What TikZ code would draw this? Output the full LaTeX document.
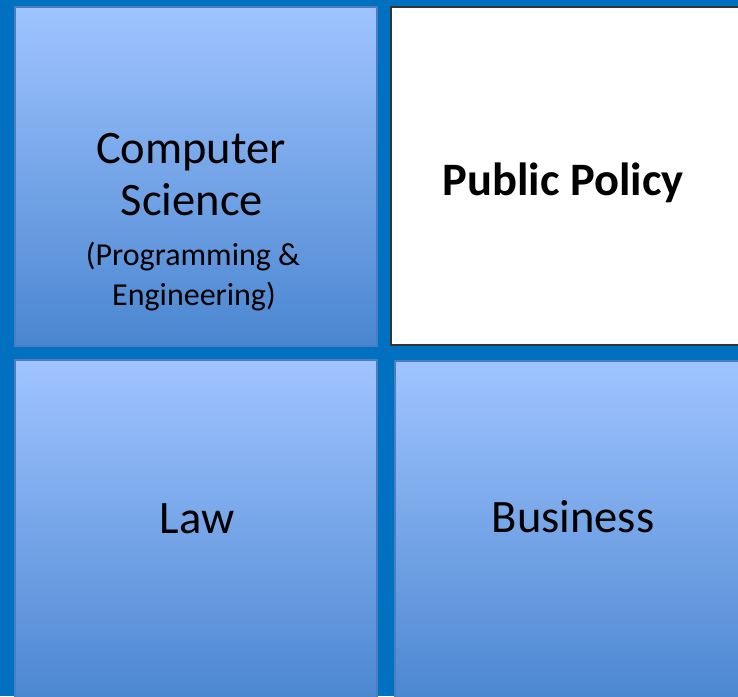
\documentclass[tikz,border=0pt]{standalone}
\usepackage{fontspec}
\setmainfont{Carlito}
\definecolor{bgblue}{HTML}{0070C0}
\definecolor{boxtop}{HTML}{A0C4FF}
\definecolor{boxbot}{HTML}{4A86D0}
\definecolor{boxline}{HTML}{4A7EC0}
\tikzset{
  tile/.style={top color=boxtop, bottom color=boxbot, draw=boxline, line width=1.5pt},
  plaintile/.style={fill=white, draw=black!80, line width=2pt},
  bigtxt/.style={anchor=base, inner sep=0pt, font=\fontsize{46.5}{52}\selectfont},
  smalltxt/.style={anchor=base, inner sep=0pt, font=\fontsize{32}{38}\selectfont},
  boldtxt/.style={anchor=base, inner sep=0pt, font=\fontsize{46.5}{52}\selectfont\bfseries}
}
\begin{document}
\begin{tikzpicture}[x=1pt,y=-1pt]
\useasboundingbox (0,0) rectangle (738,696);
\fill[bgblue] (0,0) rectangle (738,696);
\path[tile] (15,7) rectangle (377,346);
\path[plaintile] (391,7) rectangle (760,345);
\path[tile] (15,360) rectangle (377,705);
\path[tile] (395,361) rectangle (760,705);
\node[bigtxt] (cs1) at (191,163) {Computer};
\node[bigtxt] (cs2) at (192,215) {Science};
\node[smalltxt] (cs3) at (193,265) {(Programming \&};
\node[smalltxt] (cs4) at (194,305) {Engineering)};
\node[boldtxt] (pp) at (563,195) {Public Policy};
\node[bigtxt] (law) at (197,533) {Law};
\node[bigtxt] (bus) at (573,532) {Business};
\end{tikzpicture}
\end{document}
